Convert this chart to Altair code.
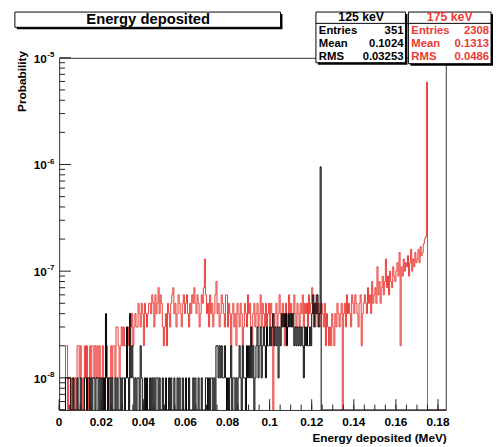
import altair as alt
import pandas as pd

BIN_WIDTH = 0.0005      # MeV per bin
PROB_PER_ENTRY = 1e-8   # probability carried by one entry
Y_MIN, Y_MAX = 5e-9, 1e-5
X_MIN, X_MAX = 0.0, 0.1837

# ---- 175 keV histogram (red), counts per 0.5 keV bin ----
red_counts_000_025 = [0,0,0,0,0,0,2,2,0,1, 1,0,1,1,0,1,0,2,2,1, 2,1,0,1,2,1,2,0,1,2,
                      1,2,2,1,2,1,2,1,2,1, 1,2,0,1,1,2,1,0,1,2]
red_counts_025_050 = [1,2,2,1,3,3,2,1,2,3, 2,3,2,2,1,3,2,4,3,4, 2,3,4,3,3,5,4,3,5,4,
                      2,5,4,3,4,5,5,4,6,5, 3,6,4,5,7,4,6,5,3,2]
red_counts_050_075 = [3,4,2,5,4,3,5,6,7,4, 5,3,4,6,5,4,3,5,6,4, 5,6,4,3,5,4,6,5,7,5,
                      4,6,5,3,4,6,5,7,13,6, 4,5,3,6,4,5,3,4,6,8]
red_counts_075_100 = [4,5,3,4,6,5,4,3,6,6, 3,5,4,2,4,5,3,4,2,5, 4,3,5,4,2,3,5,4,3,6,
                      4,5,3,2,4,5,3,4,5,3, 4,6,3,5,4,3,5,2,4,5]
red_counts_100_125 = [3,5,4,0,3,4,5,3,4,6, 4,3,5,4,2,5,3,4,6,4, 5,3,4,6,4,3,5,4,3,5,
                      4,6,3,5,4,5,3,6,4,5, 7,4,5,3,6,4,5,3,4,5]
red_counts_125_150 = [4,3,5,2,4,3,2,3,2,4, 3,2,4,3,5,4,3,4,5,0, 4,5,3,6,4,5,4,3,6,5,
                      4,6,5,4,3,5,6,2,4,5, 6,5,4,7,5,6,4,8,5,6]
red_counts_150_175 = [7,5,11,6,8,5,7,9,6,8, 13,7,9,6,10,8,7,11,9,8, 10,12,9,15,2,11,9,13,10,12,
                      11,14,9,12,16,10,13,11,15,12, 13,16,12,17,14,15,18,20,21,590, 0]

# ---- 125 keV histogram (black) ----
black_counts_000_025 = [0,0,0,0,0,0,1,1,1,1, 1,0,0,1,0,0,0,1,0,0, 1,0,0,0,1,1,0,1,1,0,
                        1,0,1,1,0,1,1,0,1,0, 1,0,1,0,4,1,0,1,1,0]
black_counts_025_050 = [1,0,0,1,0,1,0,0,1,0, 1,1,0,1,3,1,0,4,1,2, 1,0,1,0,1,1,0,2,1,0,
                        0,1,0,1,0,0,1,0,1,0, 1,0,1,1,0,1,0,0,1,0]
black_counts_050_075 = [0,1,0,0,1,0,1,0,0,1, 0,0,1,0,1,0,0,1,0,0, 1,0,0,1,0,0,0,1,0,1,
                        0,0,1,0,0,1,0,0,0,1, 1,0,1,0,1,1,0,1,0,2]
black_counts_075_100 = [2,1,2,1,2,1,1,2,1,0, 1,0,1,2,0,1,1,0,1,0, 1,2,1,0,2,1,1,0,2,1,
                        2,1,3,1,2,0,1,2,3,1, 2,3,1,2,3,2,1,3,2,2]
black_counts_100_125 = [3,2,3,4,2,3,2,3,1,3, 2,4,3,4,3,4,2,3,4,3, 4,3,4,2,3,2,3,2,3,2,
                        3,2,1,3,2,3,2,2,3,2, 4,6,3,5,4,6,3,4,95,0]

red_counts = (red_counts_000_025 + red_counts_025_050 + red_counts_050_075 +
              red_counts_075_100 + red_counts_100_125 + red_counts_125_150 + red_counts_150_175)
black_counts = (black_counts_000_025 + black_counts_025_050 + black_counts_050_075 +
                black_counts_075_100 + black_counts_100_125)

# axis annotations
decades = [1e-8, 1e-7, 1e-6, 1e-5]
decade_exps = ["-8", "-7", "-6", "-5"]
x_tick_values = [0, 0.02, 0.04, 0.06, 0.08, 0.10, 0.12, 0.14, 0.16, 0.18]
x_tick_labels = ["0", "0.02", "0.04", "0.06", "0.08", "0.1", "0.12", "0.14", "0.16", "0.18"]
stat_names = ["Entries", "Mean", "RMS"]
black_stats = ["351", "0.1024", "0.03253"]
red_stats = ["2308", "0.1313", "0.0486"]


def hist_df(counts):
    n = len(counts)
    xs = [i * BIN_WIDTH for i in range(n)] + [X_MAX + 0.01]
    vals = counts + [0]
    ys = [c * PROB_PER_ENTRY if c > 0 else Y_MIN for c in vals]
    return pd.DataFrame({"x": xs, "y": ys})


xs = alt.Scale(domain=[X_MIN, X_MAX], nice=False, zero=False)
ys = alt.Scale(type="log", domain=[Y_MIN, Y_MAX], nice=False)

RED = "#ea3a35"
FONT = "Liberation Sans"
W, H = 393, 358


def hist_layer(counts, color):
    return alt.Chart(hist_df(counts)).mark_line(
        interpolate="step-after", color=color, strokeWidth=1, clip=True
    ).encode(
        x=alt.X("x:Q", scale=xs, axis=None),
        y=alt.Y("y:Q", scale=ys, axis=None),
        order="x:Q",
    )


red_layer = hist_layer(red_counts, RED)
black_layer = hist_layer(black_counts, "#000000")

minor_y = []
for d in [1e-9, 1e-8, 1e-7, 1e-6]:
    for k in range(2, 10):
        v = k * d
        if Y_MIN <= v < Y_MAX:
            minor_y.append(v)

y_major = alt.Chart(pd.DataFrame({"y": decades})).mark_rule(color="#222", strokeWidth=1).encode(
    y=alt.Y("y:Q", scale=ys, axis=None), x=alt.value(0), x2=alt.value(12))
y_minor = alt.Chart(pd.DataFrame({"y": minor_y})).mark_rule(color="#222", strokeWidth=1).encode(
    y=alt.Y("y:Q", scale=ys, axis=None), x=alt.value(0), x2=alt.value(6))

minor_x = [round(i * 0.005, 4) for i in range(0, 37)]
x_major = alt.Chart(pd.DataFrame({"x": x_tick_values})).mark_rule(color="#222", strokeWidth=1).encode(
    x=alt.X("x:Q", scale=xs, axis=None), y=alt.value(H), y2=alt.value(H - 11))
x_minor = alt.Chart(pd.DataFrame({"x": minor_x})).mark_rule(color="#222", strokeWidth=1).encode(
    x=alt.X("x:Q", scale=xs, axis=None), y=alt.value(H), y2=alt.value(H - 5.5))

y_lab_df = pd.DataFrame({"y": decades, "exp": decade_exps})
y_lab10 = alt.Chart(y_lab_df).mark_text(
    font=FONT, fontWeight="bold", fontSize=12, align="right", baseline="middle", dy=1
).encode(y=alt.Y("y:Q", scale=ys, axis=None), x=alt.value(-12.5), text=alt.value("10"))
y_labexp = alt.Chart(y_lab_df).mark_text(
    font=FONT, fontWeight="bold", fontSize=8, align="left", baseline="middle", dy=-3
).encode(y=alt.Y("y:Q", scale=ys, axis=None), x=alt.value(-12), text="exp:N")

x_lab = alt.Chart(pd.DataFrame({"x": x_tick_values, "lab": x_tick_labels})).mark_text(
    font=FONT, fontWeight="bold", fontSize=12, align="center", baseline="middle"
).encode(x=alt.X("x:Q", scale=xs, axis=None), y=alt.value(H + 12), text="lab:N")

base = alt.Chart(pd.DataFrame({"d": [0]}))


def box(x1, x2, y1, y2, shadow=2):
    sh = base.mark_rect(fill="black").encode(
        x=alt.value(x1 + shadow), x2=alt.value(x2 + shadow),
        y=alt.value(y1 + shadow), y2=alt.value(y2 + shadow))
    bx = base.mark_rect(fill="white", stroke="black", strokeWidth=1).encode(
        x=alt.value(x1), x2=alt.value(x2), y=alt.value(y1), y2=alt.value(y2))
    return [sh, bx]


def txt(s, x, y, align="left", size=12, color="black", angle=0):
    return base.mark_text(
        font=FONT, fontWeight="bold", fontSize=size, align=align, baseline="middle",
        color=color, angle=angle
    ).encode(x=alt.value(x), y=alt.value(y), text=alt.value(s))


deco = []
deco += box(-45, 225, -46.5, -31)
deco.append(txt("Energy deposited", 90.5, -39, align="center", size=15))
deco += box(261, 352, -46.5, 5)
deco += box(355, 439, -46.5, 6)
sep = base.mark_rule(color="black", strokeWidth=1).encode(
    x=alt.value(261), x2=alt.value(439), y=alt.value(-35))
deco.append(sep)
deco.append(txt("125 keV", 307, -41, align="center", size=12.5))
deco.append(txt("175 keV", 397, -41, align="center", size=12.5, color=RED))
for i, (nm, bv, rv) in enumerate(zip(stat_names, black_stats, red_stats)):
    yy = -27.5 + i * 13.5
    deco.append(txt(nm, 264, yy, size=11.5))
    deco.append(txt(bv, 350, yy, align="right", size=11.5))
    deco.append(txt(nm, 358, yy, size=11.5, color=RED))
    deco.append(txt(rv, 437, yy, align="right", size=11.5, color=RED))

deco.append(txt("Probability", -38, 24, align="center", size=12, angle=270))
deco.append(txt("Energy deposited (MeV)", 394, 387, align="right", size=12))

chart = alt.layer(
    red_layer, black_layer, y_major, y_minor, x_major, x_minor,
    y_lab10, y_labexp, x_lab, *deco
).properties(
    width=W, height=H,
    padding={"left": 52, "top": 47, "right": 48, "bottom": 34},
    autosize=alt.AutoSizeParams(type="none"),
).configure_view(stroke="#333", strokeWidth=1)

chart.save("out.html", embed_options={"renderer": "svg", "actions": False})
